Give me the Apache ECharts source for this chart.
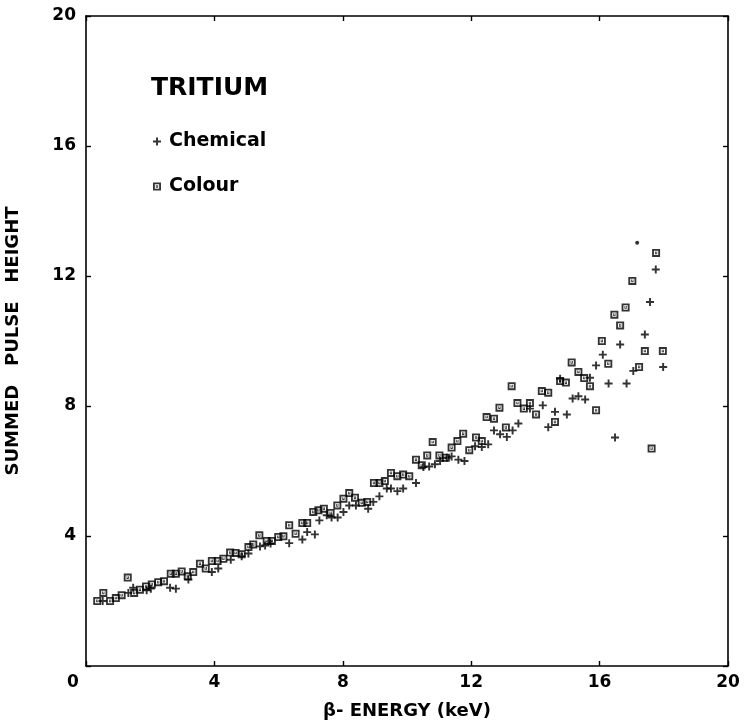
<!DOCTYPE html>
<html>
<head>
<meta charset="utf-8">
<script src="https://cdn.jsdelivr.net/npm/echarts@6/dist/echarts.min.js"></script>
<style>
  html, body { margin: 0; padding: 0; background: #fff; }
  #chart { width: 744px; height: 726px; }
</style>
</head>
<body>
<div id="chart"></div>
<script>
// Summed pulse height versus beta energy for tritium, two quench-correction methods.
const energyTicks = [0, 4, 8, 12, 16, 20];
const heightTicks = [0, 4, 8, 12, 16, 20];

// [beta energy (keV), summed pulse height]
const chemicalPoints = [
  [0.52, 2.00], [1.32, 2.25], [1.47, 2.41], [1.89, 2.33], [2.02, 2.38],
  [2.62, 2.41], [2.80, 2.38], [3.19, 2.66], [3.92, 2.89], [4.12, 3.00],
  [4.51, 3.27], [4.85, 3.38], [5.06, 3.46], [5.42, 3.68], [5.58, 3.71],
  [5.75, 3.77], [6.33, 3.78], [6.74, 3.89], [6.89, 4.12], [7.13, 4.05],
  [7.27, 4.48], [7.50, 4.64], [7.65, 4.57], [7.84, 4.57], [8.02, 4.74],
  [8.20, 4.94], [8.41, 4.94], [8.79, 4.84], [8.95, 5.05], [9.14, 5.22],
  [9.37, 5.46], [9.50, 5.46], [9.70, 5.38], [9.88, 5.46], [10.28, 5.63],
  [10.51, 6.12], [10.69, 6.14], [10.87, 6.21], [11.03, 6.31], [11.24, 6.41],
  [11.39, 6.45], [11.60, 6.35], [11.79, 6.31], [12.12, 6.76], [12.33, 6.74],
  [12.53, 6.82], [12.71, 7.25], [12.90, 7.13], [13.11, 7.05], [13.29, 7.25],
  [13.47, 7.46], [13.83, 7.92], [14.23, 8.02], [14.40, 7.35], [14.61, 7.82],
  [14.77, 8.84], [14.98, 7.74], [15.16, 8.23], [15.34, 8.30], [15.55, 8.20],
  [15.70, 8.87], [15.89, 9.25], [16.10, 9.58], [16.28, 8.69], [16.48, 7.03],
  [16.64, 9.89], [16.84, 8.69], [17.05, 9.08], [17.41, 10.20], [17.57, 11.20],
  [17.75, 12.20], [17.98, 9.20]
];

const colourPoints = [
  [0.35, 2.00], [0.54, 2.25], [0.75, 2.00], [0.93, 2.09], [1.11, 2.18],
  [1.30, 2.72], [1.50, 2.25], [1.68, 2.35], [1.87, 2.45], [2.05, 2.51],
  [2.25, 2.58], [2.43, 2.61], [2.64, 2.84], [2.80, 2.84], [2.98, 2.91],
  [3.17, 2.76], [3.34, 2.89], [3.55, 3.15], [3.73, 3.00], [3.92, 3.23],
  [4.10, 3.23], [4.28, 3.30], [4.49, 3.49], [4.66, 3.48], [4.85, 3.44],
  [5.06, 3.66], [5.21, 3.74], [5.40, 4.02], [5.63, 3.85], [5.79, 3.85],
  [5.99, 3.97], [6.15, 3.99], [6.33, 4.33], [6.53, 4.07], [6.74, 4.40],
  [6.89, 4.40], [7.08, 4.74], [7.24, 4.79], [7.41, 4.84], [7.62, 4.71],
  [7.83, 4.94], [8.02, 5.15], [8.20, 5.32], [8.38, 5.18], [8.59, 5.02],
  [8.76, 5.05], [8.97, 5.63], [9.14, 5.63], [9.31, 5.69], [9.50, 5.94],
  [9.70, 5.84], [9.88, 5.89], [10.07, 5.84], [10.28, 6.35], [10.46, 6.18],
  [10.63, 6.48], [10.80, 6.89], [11.01, 6.48], [11.21, 6.41], [11.39, 6.72],
  [11.57, 6.92], [11.75, 7.15], [11.94, 6.64], [12.15, 7.03], [12.33, 6.92],
  [12.48, 7.66], [12.71, 7.61], [12.88, 7.95], [13.08, 7.34], [13.26, 8.61],
  [13.44, 8.09], [13.64, 7.92], [13.83, 8.09], [14.02, 7.74], [14.20, 8.46],
  [14.40, 8.41], [14.61, 7.51], [14.77, 8.77], [14.95, 8.72], [15.13, 9.34],
  [15.34, 9.05], [15.52, 8.86], [15.70, 8.61], [15.89, 7.87], [16.07, 10.00],
  [16.27, 9.30], [16.46, 10.81], [16.64, 10.48], [16.81, 11.03], [17.02, 11.85],
  [17.23, 9.20], [17.41, 9.69], [17.62, 6.69], [17.76, 12.71], [17.97, 9.69]
];

const strayPoints = [[17.17, 13.02]];

const FONT = '"DejaVu Sans", "Liberation Sans", sans-serif';
// bold plus sign, and a framed square with a small mark inside
const PLUS = 'path://M3.8,0H6.2V3.8H10V6.2H6.2V10H3.8V6.2H0V3.8H3.8Z';
const BOXED = 'path://M0,0H10V10H0Z M2.3,2.3V7.7H7.7V2.3Z M3.6,3.2H4.6V5.6H5.4V3.2H6.4V6.6H3.6Z';

const chart = echarts.init(document.getElementById('chart'), null, { renderer: 'canvas' });

const labelBase = { color: '#000', fontFamily: FONT, fontWeight: 'bold', fontSize: 17 };
const lineStyle = { color: '#000', width: 1.6 };
const frameLine = { show: true, onZero: false, lineStyle };
const tickStyle = { show: true, inside: true, length: 5, lineStyle: { color: '#000', width: 1.4 } };

chart.setOption({
  backgroundColor: '#fff',
  animation: false,
  title: {
    text: 'TRITIUM',
    left: 146, top: 71,
    textStyle: { color: '#000', fontFamily: FONT, fontWeight: 'bold', fontSize: 25 }
  },
  legend: {
    orient: 'vertical',
    left: 148, top: 127,
    itemWidth: 8, itemHeight: 8,
    itemGap: 26,
    textStyle: { color: '#000', fontFamily: FONT, fontWeight: 'bold', fontSize: 19, padding: [0, 0, 0, 3] },
    data: [
      { name: 'Chemical', icon: PLUS },
      { name: 'Colour', icon: BOXED }
    ]
  },
  grid: { left: 86, right: 16, top: 16, bottom: 60, containLabel: false, outerBoundsMode: 'none' },
  xAxis: [
    {
      type: 'value', min: energyTicks[0], max: energyTicks[energyTicks.length - 1], interval: 4,
      position: 'bottom',
      axisLine: frameLine,
      axisTick: tickStyle,
      splitLine: { show: false },
      axisLabel: Object.assign({}, labelBase, {
        margin: 8,
        formatter: v => (v === 0 ? '{z|0}' : String(v)),
        rich: { z: Object.assign({}, labelBase, { padding: [0, 26, 0, 0] }) }
      }),
      name: 'β- ENERGY (keV)',
      nameLocation: 'middle',
      nameGap: 36,
      nameTextStyle: { color: '#000', fontFamily: FONT, fontWeight: 'bold', fontSize: 18 }
    },
    {
      type: 'value', min: 0, max: 20, interval: 4, position: 'top',
      axisLine: frameLine, axisTick: tickStyle,
      axisLabel: { show: false }, splitLine: { show: false }
    }
  ],
  yAxis: [
    {
      type: 'value', min: heightTicks[0], max: heightTicks[heightTicks.length - 1], interval: 4,
      position: 'left',
      axisLine: frameLine,
      axisTick: tickStyle,
      splitLine: { show: false },
      axisLabel: Object.assign({}, labelBase, {
        margin: 10,
        formatter: v => (v === 0 ? '' : String(v))
      }),
      name: 'SUMMED   PULSE   HEIGHT',
      nameLocation: 'middle',
      nameGap: 64,
      nameTextStyle: { color: '#000', fontFamily: FONT, fontWeight: 'bold', fontSize: 18 }
    },
    {
      type: 'value', min: 0, max: 20, interval: 4, position: 'right',
      axisLine: frameLine, axisTick: tickStyle,
      axisLabel: { show: false }, splitLine: { show: false }
    }
  ],
  series: [
    {
      name: 'Chemical', type: 'scatter', xAxisIndex: 0, yAxisIndex: 0,
      symbol: PLUS, symbolSize: 8,
      itemStyle: { color: '#000' },
      data: chemicalPoints
    },
    {
      name: 'Colour', type: 'scatter', xAxisIndex: 0, yAxisIndex: 0,
      symbol: BOXED, symbolSize: 8,
      itemStyle: { color: '#000' },
      data: colourPoints
    },
    {
      name: 'stray', type: 'scatter', xAxisIndex: 0, yAxisIndex: 0,
      symbol: 'circle', symbolSize: 4,
      itemStyle: { color: '#000' },
      data: strayPoints
    }
  ]
});
</script>
</body>
</html>
